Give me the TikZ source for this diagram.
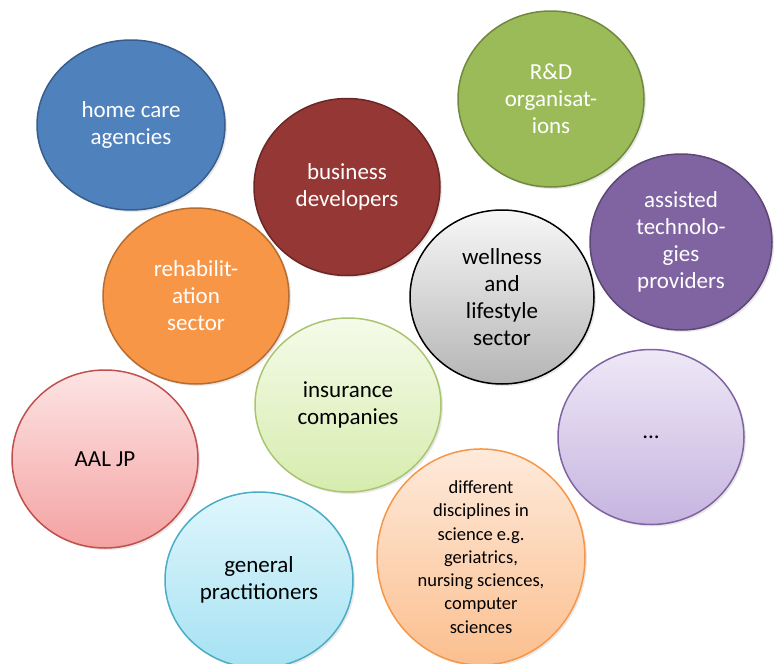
\documentclass[tikz,border=0pt]{standalone}
\usepackage{fontspec}
\setmainfont{Carlito}
\usetikzlibrary{shapes.geometric,shadows}

\definecolor{bluefill}{HTML}{4F81BD}
\definecolor{blueline}{HTML}{385D8A}
\definecolor{redfill}{HTML}{953735}
\definecolor{redline}{HTML}{6B2725}
\definecolor{greenfill}{HTML}{9BBB59}
\definecolor{greenline}{HTML}{71893F}
\definecolor{purplefill}{HTML}{8064A2}
\definecolor{purpleline}{HTML}{5C4776}
\definecolor{orangefill}{HTML}{F79646}
\definecolor{orangeline}{HTML}{B66D31}
\definecolor{pinkline}{HTML}{C0504D}
\definecolor{cyanline}{HTML}{4BACC6}
% gradient ends
\definecolor{graytop}{HTML}{F7F7F7}
\definecolor{graybot}{HTML}{B5B5B5}
\definecolor{greentop}{HTML}{F5FBE9}
\definecolor{greenbot}{HTML}{D6ECAE}
\definecolor{lilactop}{HTML}{EEE8F6}
\definecolor{lilacbot}{HTML}{C6B4E0}
\definecolor{pinktop}{HTML}{FDE4E4}
\definecolor{pinkbot}{HTML}{F4A2A2}
\definecolor{cyantop}{HTML}{DFF6FC}
\definecolor{cyanbot}{HTML}{A6E2F3}
\definecolor{peachtop}{HTML}{FEEADB}
\definecolor{peachbot}{HTML}{FBBF8F}

\tikzset{
  bubble/.style={ellipse, inner sep=0pt, align=center, line width=1.5pt,
    font=\fontsize{23}{27}\selectfont,
    drop shadow={opacity=0.18, shadow xshift=2pt, shadow yshift=-2pt}},
  darkbubble/.style={bubble, text=white},
  lightbubble/.style={bubble, text=black, shading=axis, shading angle=0}
}

\begin{document}
\begin{tikzpicture}[x=1pt, y=-1pt]
  \useasboundingbox (0,0) rectangle (774,664);
  % solid circles
  \node[darkbubble, fill=bluefill, draw=blueline, minimum width=188pt, minimum height=170pt]
    (homecare) at (131,125) {home care\\agencies};
  \node[darkbubble, fill=redfill, draw=redline, minimum width=186pt, minimum height=177pt]
    (business) at (347,187) {business\\developers};
  \node[darkbubble, fill=greenfill, draw=greenline, minimum width=186pt, minimum height=176pt]
    (rnd) at (551,99) {R\&D\\organisat-\\ions};
  \node[darkbubble, fill=purplefill, draw=purpleline, minimum width=182pt, minimum height=176pt]
    (assisted) at (681,242) {assisted\\technolo-\\gies\\providers};
  \node[darkbubble, fill=orangefill, draw=orangeline, minimum width=186pt, minimum height=176pt]
    (rehab) at (196,296) {rehabilit-\\ation\\sector};
  % shaded circles
  \node[lightbubble, top color=graytop, bottom color=graybot, draw=black, minimum width=184pt, minimum height=174pt]
    (wellness) at (502,297) {wellness\\and\\lifestyle\\sector};
  \node[lightbubble, top color=greentop, bottom color=greenbot, draw=greenfill!85, minimum width=186pt, minimum height=174pt]
    (insurance) at (348,405) {insurance\\companies};
  \node[lightbubble, top color=lilactop, bottom color=lilacbot, draw=purplefill, minimum width=186pt, minimum height=175pt]
    (more) at (651,437) {...};
  \node[lightbubble, top color=pinktop, bottom color=pinkbot, draw=pinkline, minimum width=186pt, minimum height=178pt]
    (aal) at (105,459) {AAL JP};
  \node[lightbubble, top color=cyantop, bottom color=cyanbot, draw=cyanline, minimum width=188pt, minimum height=176pt]
    (gp) at (259,580) {general\\practitioners};
  \node[lightbubble, top color=peachtop, bottom color=peachbot, draw=orangefill, minimum width=208pt, minimum height=214pt,
    font=\fontsize{18.5}{23.3}\selectfont]
    (disciplines) at (481,557) {different\\disciplines in\\science e.g.\\geriatrics,\\nursing sciences,\\computer\\sciences};
\end{tikzpicture}
\end{document}
